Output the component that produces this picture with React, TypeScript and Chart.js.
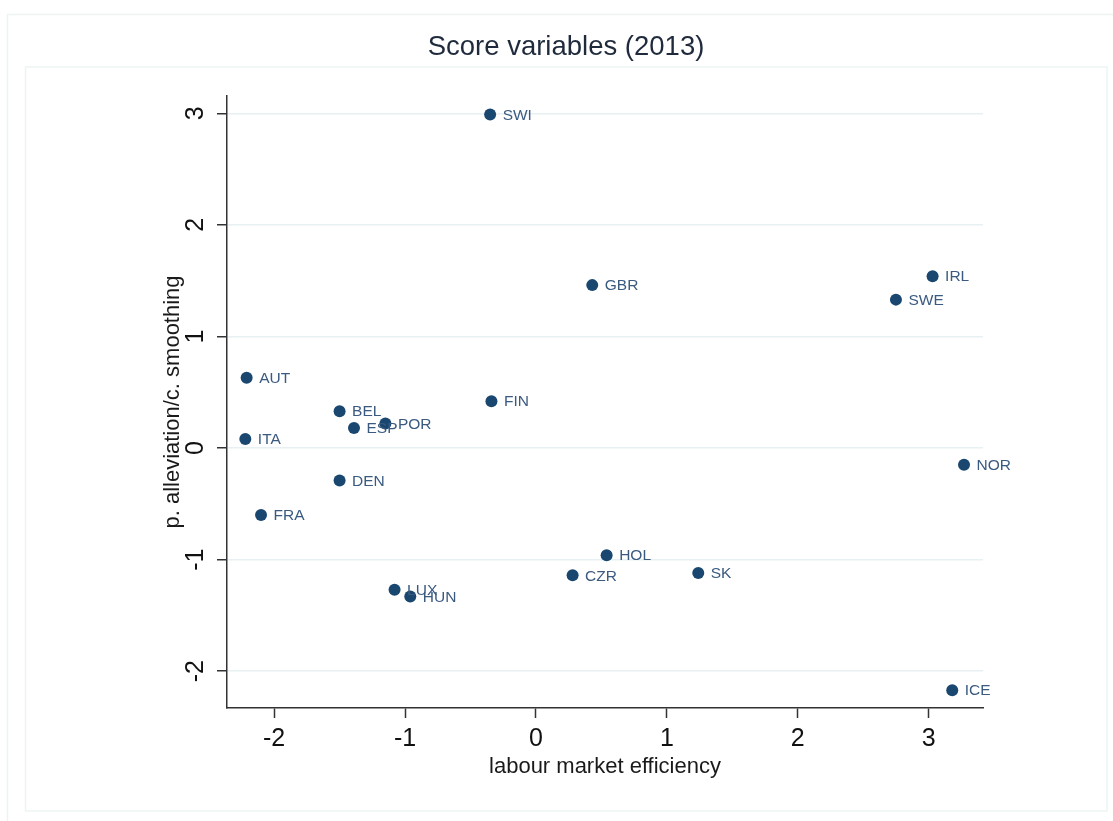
import React, { useEffect, useRef } from "react";
import { Chart, registerables } from "chart.js";

Chart.register(...registerables);

const countries = ["SWI", "GBR", "IRL", "SWE", "AUT", "FIN", "BEL", "POR", "ESP", "ITA", "DEN", "FRA", "NOR", "HOL", "CZR", "SK", "LUX", "HUN", "ICE"];
const efficiency = [-0.35, 0.43, 3.03, 2.75, -2.21, -0.34, -1.50, -1.15, -1.39, -2.22, -1.50, -2.10, 3.27, 0.54, 0.28, 1.24, -1.08, -0.96, 3.18];
const smoothing = [2.99, 1.46, 1.54, 1.33, 0.63, 0.42, 0.33, 0.22, 0.18, 0.08, -0.29, -0.60, -0.15, -0.96, -1.14, -1.12, -1.27, -1.33, -2.17];
const xTicks = [-2, -1, 0, 1, 2, 3];
const yTicks = [-2, -1, 0, 1, 2, 3];

const titleText = "Score variables (2013)";
const xTitle = "labour market efficiency";
const yTitle = "p. alleviation/c. smoothing";

const FONT = "'Liberation Sans', Arial, Helvetica, sans-serif";
const MARKER = "#1a476f";
const LABEL_COLOR = "#3a5a80";

const decorPlugin = {
  id: "decor",
  beforeDraw(chart: any) {
    const ctx = chart.ctx;
    ctx.save();
    ctx.fillStyle = "#ffffff";
    ctx.fillRect(0, 0, chart.width, chart.height);
    ctx.strokeStyle = "#edf3f3";
    ctx.lineWidth = 1.5;
    ctx.strokeRect(7.5, 14.5, 1130, 830);
    ctx.strokeRect(25.5, 67, 1081.5, 744);
    ctx.restore();
  },
  afterDraw(chart: any) {
    const ctx = chart.ctx;
    const ys = chart.scales.y;
    ctx.save();
    ctx.fillStyle = "#1f2a3c";
    ctx.font = `27.5px ${FONT}`;
    ctx.textAlign = "center";
    ctx.textBaseline = "alphabetic";
    ctx.fillText(titleText, 566, 55);
    ctx.fillStyle = "#1a1a1a";
    ctx.font = `22px ${FONT}`;
    const area = chart.chartArea;
    ctx.fillText(xTitle, (area.left + area.right) / 2, 773);
    ctx.save();
    ctx.translate(179, (area.top + area.bottom) / 2);
    ctx.rotate(-Math.PI / 2);
    ctx.fillText(yTitle, 0, 0);
    ctx.restore();
    ctx.font = `25px ${FONT}`;
    ctx.fillStyle = "#111111";
    yTicks.forEach((v) => {
      const py = ys.getPixelForValue(v);
      ctx.save();
      ctx.translate(203, py);
      ctx.rotate(-Math.PI / 2);
      ctx.fillText(String(v), 0, 0);
      ctx.restore();
    });
    ctx.restore();
  },
  afterDatasetsDraw(chart: any) {
    const ctx = chart.ctx;
    const meta = chart.getDatasetMeta(0);
    ctx.save();
    ctx.font = `15.5px ${FONT}`;
    ctx.fillStyle = LABEL_COLOR;
    ctx.textAlign = "left";
    ctx.textBaseline = "middle";
    meta.data.forEach((pt: any, i: number) => {
      ctx.fillText(countries[i], pt.x + 12.5, pt.y + 1);
    });
    ctx.restore();
  },
};

export default function App() {
  const ref = useRef<HTMLCanvasElement>(null);
  useEffect(() => {
    if (!ref.current) return;
    const chart = new Chart(ref.current, {
      type: "scatter",
      data: {
        datasets: [
          {
            label: "countries",
            data: efficiency.map((x, i) => ({ x, y: smoothing[i] })),
            backgroundColor: MARKER,
            borderColor: MARKER,
            pointRadius: 6,
            pointHoverRadius: 6,
            borderWidth: 0,
          },
        ],
      },
      options: {
        animation: false,
        responsive: true,
        maintainAspectRatio: false,
        layout: { padding: { left: 0, right: 130, top: 96, bottom: 0 } },
        plugins: { legend: { display: false }, tooltip: { enabled: false }, title: { display: false } },
        scales: {
          x: {
            type: "linear",
            min: -2.36,
            max: 3.415,
            afterBuildTicks: (scale: any) => {
              scale.ticks = xTicks.map((v) => ({ value: v }));
            },
            afterFit: (scale: any) => {
              scale.height = 113;
            },
            grid: { drawOnChartArea: false, drawTicks: true, tickLength: 10, tickColor: "#333333", tickWidth: 1.5 },
            border: { display: true, color: "#333333", width: 1.5 },
            ticks: {
              font: { family: FONT, size: 25 },
              color: "#111111",
              padding: 6,
              maxRotation: 0,
              minRotation: 0,
            },
          },
          y: {
            type: "linear",
            min: -2.33,
            max: 3.155,
            afterBuildTicks: (scale: any) => {
              scale.ticks = yTicks.map((v) => ({ value: v }));
            },
            afterFit: (scale: any) => {
              scale.width = 227;
            },
            grid: { color: "#e7f0f2", lineWidth: 1.5, drawTicks: true, tickLength: 10, tickColor: "#333333", tickWidth: 1.5 },
            border: { display: true, color: "#333333", width: 1.5 },
            ticks: { display: false },
          },
        },
      },
      plugins: [decorPlugin],
    });
    return () => chart.destroy();
  }, []);
  return (
    <div style={{ position: "absolute", left: 0, top: 0, width: 1113, height: 821 }}>
      <canvas ref={ref} />
    </div>
  );
}
